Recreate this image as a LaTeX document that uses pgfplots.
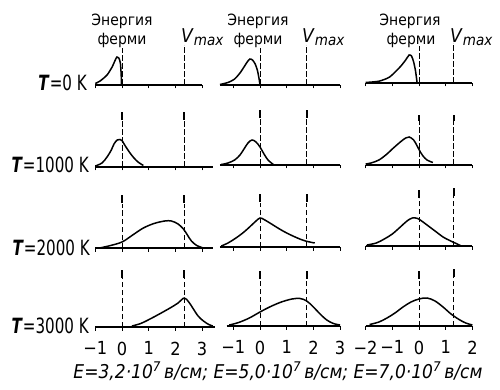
\documentclass[border=0pt]{standalone}
\usepackage{fontspec}
\setmainfont{DejaVu Sans Condensed}
\usepackage{pgfplots}
\pgfplotsset{compat=1.18}
\pgfplotsset{
  panel/.style={x=26.7pt, y=1pt, ymin=0, ymax=60, anchor=origin,
    axis x line=bottom, axis y line=none, axis line style={-, line width=1.1pt},
    xtick={-2,-1,0,1,2,3}, xticklabels={}, tick align=outside, major tick length=3.5pt,
    tick style={line width=1pt, black}, clip=false,
    xticklabel style={font=\fontsize{18}{18}\selectfont, inner sep=0pt, yshift=-11pt}},
  curve/.style={black, line width=1.5pt, smooth, tension=0.55, no markers},
  dash/.style={black, line width=0.8pt, dash pattern=on 5.5pt off 2.5pt, no markers},
  thk/.style={black, line width=2pt, no markers},
}
\newcommand{\vmax}{\textit{V}\raisebox{-3pt}{\fontsize{15}{15}\selectfont\itshape max}}
\newcommand{\rl}[1]{\scalebox{0.8}[1]{\textbf{\textit{T}}=#1 K}}
\begin{document}
\begin{tikzpicture}
\useasboundingbox (0,0) rectangle (500pt,-390pt);
% ---------- row labels ----------
\begin{scope}[every node/.style={inner sep=0pt, font=\fontsize{21}{21}\selectfont}]
\node[anchor=base east] at (87pt,-91pt) {\rl{0}};
\node[anchor=base east] at (89pt,-172pt) {\rl{1000}};
\node[anchor=base east] at (90pt,-255pt) {\rl{2000}};
\node[anchor=base east] at (89pt,-333pt) {\rl{3000}};
\end{scope}
% ---------- top labels ----------
\begin{scope}[every node/.style={inner sep=0pt, align=center, font=\fontsize{15.5}{19}\selectfont}]
\node[anchor=base] at (122pt,-26pt) {Энергия};
\node[anchor=base] at (122pt,-45pt) {ферми};
\node[anchor=base] at (258pt,-26pt) {Энергия};
\node[anchor=base] at (258pt,-45pt) {ферми};
\node[anchor=base] at (410pt,-26pt) {Энергия};
\node[anchor=base] at (411pt,-45pt) {ферми};
\end{scope}
\begin{scope}[every node/.style={inner sep=0pt, anchor=base west, font=\fontsize{19}{19}\selectfont}]
\node at (181pt,-43pt) {\vmax};
\node at (302pt,-43pt) {\vmax};
\node at (450pt,-43pt) {\vmax};
\end{scope}
\node[anchor=base, inner sep=0pt, font=\fontsize{19}{19}\selectfont\itshape] at (278pt,-378pt)
  {E=3,2·10\textsuperscript{7}\,в/см;\ E=5,0·10\textsuperscript{7}\,в/см;\ E=7,0·10\textsuperscript{7}\,в/см};

% ================= ROW 1 (T=0) =================
\begin{axis}[panel, at={(122pt,-85pt)}, xmin=-1, xmax=3]
\addplot[dash] coordinates {(0,0) (0,37)};
\addplot[dash] coordinates {(2.32,0) (2.32,40)};
\addplot[curve, tension=0.4] coordinates {(-1,1.5) (-0.82,4) (-0.56,10) (-0.37,18) (-0.26,24.5) (-0.19,28) (-0.12,27) (-0.06,22) (-0.03,10) (-0.02,0)};
\end{axis}
\begin{axis}[panel, at={(260pt,-85pt)}, xmin=-1.5, xmax=3]
\addplot[dash] coordinates {(0,0) (0,37)};
\addplot[dash] coordinates {(1.75,0) (1.75,40)};
\addplot[curve, tension=0.4] coordinates {(-1.5,0.5) (-1.2,2.5) (-0.95,6) (-0.75,12) (-0.6,18) (-0.48,23) (-0.38,26) (-0.28,25) (-0.18,21) (-0.1,15) (-0.04,7) (0,0)};
\end{axis}
\begin{axis}[panel, at={(419pt,-83pt)}, xmin=-2, xmax=2]
\addplot[dash] coordinates {(0,0) (0,37)};
\addplot[dash] coordinates {(1.3,0) (1.3,40)};
\addplot[curve, tension=0.4] coordinates {(-2,0.5) (-1.5,1.8) (-1.1,6) (-0.71,16) (-0.5,23) (-0.37,28) (-0.28,27) (-0.2,21) (-0.13,12) (-0.07,0)};
\end{axis}

% ================= ROW 2 (T=1000) =================
\begin{axis}[panel, at={(122pt,-167pt)}, xmin=-1, xmax=3.4]
\addplot[dash] coordinates {(0,0) (0,46)};
\addplot[thk] coordinates {(0,47) (0,55)};
\addplot[dash] coordinates {(2.32,0) (2.32,46)};
\addplot[thk] coordinates {(2.32,47) (2.32,55)};
\addplot[curve] coordinates {(-1,1) (-0.75,4) (-0.56,10) (-0.4,17) (-0.3,23) (-0.18,27) (-0.08,27.5) (0,26.5) (0.1,22) (0.3,14) (0.45,9) (0.6,5) (0.8,1.5)};
\end{axis}
\begin{axis}[panel, at={(260pt,-165pt)}, xmin=-1.5, xmax=3]
\addplot[dash] coordinates {(0,0) (0,46)};
\addplot[thk] coordinates {(0,47) (0,55)};
\addplot[dash] coordinates {(1.75,0) (1.75,46)};
\addplot[thk] coordinates {(1.75,47) (1.75,55)};
\addplot[curve] coordinates {(-1.45,0.5) (-1.2,2) (-0.95,5) (-0.75,10) (-0.6,16) (-0.45,22) (-0.3,25) (-0.15,23) (0,18) (0.15,11) (0.3,5) (0.5,0.5)};
\end{axis}
\begin{axis}[panel, at={(419pt,-165pt)}, xmin=-2, xmax=2]
\addplot[dash] coordinates {(0,0) (0,46)};
\addplot[thk] coordinates {(0,44) (0,50)};
\addplot[dash] coordinates {(1.3,0) (1.3,46)};
\addplot[thk] coordinates {(1.3,44) (1.3,50)};
\addplot[curve] coordinates {(-2,1) (-1.8,2) (-1.5,5) (-1.2,11) (-1,16) (-0.7,23) (-0.5,27) (-0.37,28) (-0.2,25) (-0.07,19) (0.05,13) (0.15,9) (0.3,5) (0.52,2.5)};
\end{axis}

% ================= ROW 3 (T=2000) =================
\begin{axis}[panel, at={(122pt,-248pt)}, xmin=-1, xmax=3.4]
\addplot[dash] coordinates {(0,0) (0,44)};
\addplot[thk] coordinates {(0,45) (0,53)};
\addplot[dash] coordinates {(2.32,0) (2.32,44)};
\addplot[thk] coordinates {(2.32,45) (2.32,53)};
\addplot[curve] coordinates {(-0.85,0) (-0.5,2) (0,6) (0.4,13) (0.8,20) (1.2,24.5) (1.6,27) (1.85,27) (2.1,24) (2.3,19) (2.45,13) (2.6,7) (2.8,2.5) (3.05,0)};
\end{axis}
\begin{axis}[panel, at={(260pt,-247pt)}, xmin=-1.5, xmax=3]
\addplot[dash] coordinates {(0,0) (0,44)};
\addplot[thk] coordinates {(0,45) (0,53)};
\addplot[dash] coordinates {(1.75,0) (1.75,44)};
\addplot[thk] coordinates {(1.75,45) (1.75,53)};
\addplot[curve] coordinates {(-1.45,1) (-1.2,4) (-0.9,9) (-0.6,15) (-0.35,21) (-0.15,26) (0,29) (0.15,27.5) (0.4,23.5) (0.7,18.5) (1,14) (1.4,9) (1.7,6) (2.05,4)};
\end{axis}
\begin{axis}[panel, at={(419pt,-246pt)}, xmin=-2, xmax=2]
\addplot[dash] coordinates {(0,0) (0,48)};
\addplot[thk] coordinates {(0,48) (0,56)};
\addplot[dash] coordinates {(1.3,0) (1.3,50)};
\addplot[thk] coordinates {(1.3,50) (1.3,58)};
\addplot[curve] coordinates {(-1.95,1) (-1.6,3) (-1.3,7) (-1,12) (-0.7,19) (-0.45,25) (-0.25,28) (-0.05,27.5) (0.15,24) (0.4,19) (0.65,14) (0.9,9) (1.15,5.5) (1.35,3) (1.55,0.5)};
\end{axis}

% ================= ROW 4 (T=3000) =================
\begin{axis}[panel, at={(122pt,-327pt)}, xmin=-1, xmax=3.5,
  xticklabels={−2,−1,0,1,2,3}]
\addplot[dash] coordinates {(0,0) (0,49)};
\addplot[thk] coordinates {(0,49) (0,57)};
\addplot[dash] coordinates {(2.32,0) (2.32,49)};
\addplot[thk] coordinates {(2.32,49) (2.32,57)};
\addplot[curve] coordinates {(0.37,1) (0.7,3.5) (1.05,8) (1.4,13) (1.8,19) (2.1,24) (2.33,29) (2.5,25) (2.65,19) (2.85,11) (3.05,6) (3.25,2.5) (3.4,1)};
\end{axis}
\begin{axis}[panel, at={(260pt,-326pt)}, xmin=-1.25, xmax=3,
  xticklabels={−2,−1,0,1,2,3}]
\addplot[dash] coordinates {(0,0) (0,47)};
\addplot[thk] coordinates {(0,47) (0,55)};
\addplot[dash] coordinates {(1.75,0) (1.75,47)};
\addplot[thk] coordinates {(1.75,47) (1.75,55)};
\addplot[curve] coordinates {(-1.15,1) (-0.8,3.5) (-0.4,8) (0,14) (0.4,19.5) (0.8,24) (1.2,27) (1.5,27.5) (1.75,25) (2,19) (2.25,12) (2.5,6) (2.75,2.5) (3,1)};
\end{axis}
\begin{axis}[panel, at={(419pt,-326pt)}, xmin=-2, xmax=2,
  xticklabels={−2,−1,0,1,2,3}]
\addplot[dash] coordinates {(0,0) (0,47)};
\addplot[thk] coordinates {(0,47) (0,55)};
\addplot[dash] coordinates {(1.3,0) (1.3,49)};
\addplot[thk] coordinates {(1.3,49) (1.3,57)};
\addplot[curve] coordinates {(-1.85,1.5) (-1.5,4) (-1.2,8) (-0.9,13) (-0.6,19) (-0.3,24) (0,27) (0.3,28) (0.6,25) (0.9,19) (1.2,12) (1.5,6.5) (1.75,3) (2,1)};
\end{axis}
\end{tikzpicture}
\end{document}
